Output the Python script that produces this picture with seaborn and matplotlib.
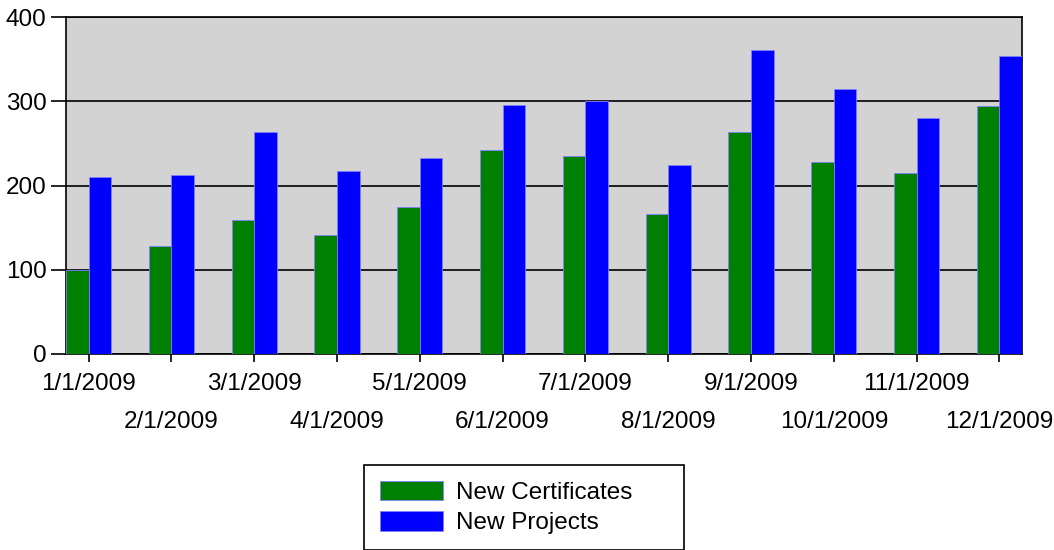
import matplotlib
matplotlib.use("Agg")
import matplotlib.pyplot as plt
from matplotlib.transforms import ScaledTranslation
import pandas as pd
import seaborn as sns

months = ["1/1/2009", "2/1/2009", "3/1/2009", "4/1/2009", "5/1/2009", "6/1/2009",
          "7/1/2009", "8/1/2009", "9/1/2009", "10/1/2009", "11/1/2009", "12/1/2009"]
new_certificates = [100, 128, 159, 141, 175, 242, 235, 166, 264, 228, 215, 294]
new_projects = [210, 213, 264, 217, 233, 296, 300, 224, 361, 314, 280, 354]
series_names = ["New Certificates", "New Projects"]
series_colors = ["#008000", "#0000FF"]
y_ticks = [0, 100, 200, 300, 400]

df = pd.DataFrame({
    "Month": months * 2,
    "Value": new_certificates + new_projects,
    "Series": [series_names[0]] * len(months) + [series_names[1]] * len(months),
})

sns.set_theme(style="white")
plt.rcParams["font.family"] = ["Liberation Sans", "DejaVu Sans"]
plt.rcParams["text.color"] = "black"

FS = 17.5

fig = plt.figure(figsize=(10.54, 5.50), dpi=100)
ax = fig.add_axes([66 / 1054, 1 - 354 / 550, (1022 - 66) / 1054, (354 - 17) / 550])
ax.set_facecolor("#D3D3D3")

sns.barplot(data=df, x="Month", y="Value", hue="Series", order=months,
            hue_order=series_names, palette=series_colors, width=0.545,
            dodge=True, gap=0, saturation=1, edgecolor="#8080FF", linewidth=0.6,
            legend=False, ax=ax, zorder=3)

# bars sit flush against the frame on both ends
ax.set_xlim(-0.2725, 11.2725)
ax.set_ylim(0, 400)
ax.set_yticks(y_ticks)
ax.set_yticklabels([str(v) for v in y_ticks])
ax.yaxis.grid(True, color="black", linewidth=1.2, zorder=1)
ax.xaxis.grid(False)
ax.set_axisbelow(True)
ax.set_xlabel("")
ax.set_ylabel("")

for side in ["left", "bottom", "top", "right"]:
    ax.spines[side].set_visible(True)
    ax.spines[side].set_color("black")
    ax.spines[side].set_linewidth(1.2)

ax.tick_params(axis="y", which="major", length=11, width=1.2, color="black",
               pad=3, labelsize=FS, labelcolor="black", left=True, direction="out")
ax.tick_params(axis="x", which="major", length=6, width=1.2, color="black",
               pad=8, labelsize=FS, labelcolor="black", bottom=True, direction="out")

# stagger the month labels on two rows
offset = ScaledTranslation(0, -0.38, fig.dpi_scale_trans)
for i, lbl in enumerate(ax.get_xticklabels()):
    if i % 2 == 1:
        lbl.set_transform(lbl.get_transform() + offset)

handles = [plt.Rectangle((0, 0), 1, 1, facecolor=c, edgecolor="#8080FF", linewidth=0.6)
           for c in series_colors]
leg = fig.legend(handles, series_names, loc="upper left",
                 bbox_to_anchor=(364 / 1054, 1 - 465 / 550, 320 / 1054, 0.0),
                 mode="expand", ncol=1, fontsize=FS, labelcolor="black",
                 frameon=True, fancybox=False, edgecolor="black", framealpha=1,
                 handlelength=2.6, handleheight=0.85, handletextpad=0.55,
                 labelspacing=0.3, borderpad=0.65, borderaxespad=0)
leg.get_frame().set_linewidth(1.2)

fig.savefig("out.png", dpi=100, facecolor="white")
